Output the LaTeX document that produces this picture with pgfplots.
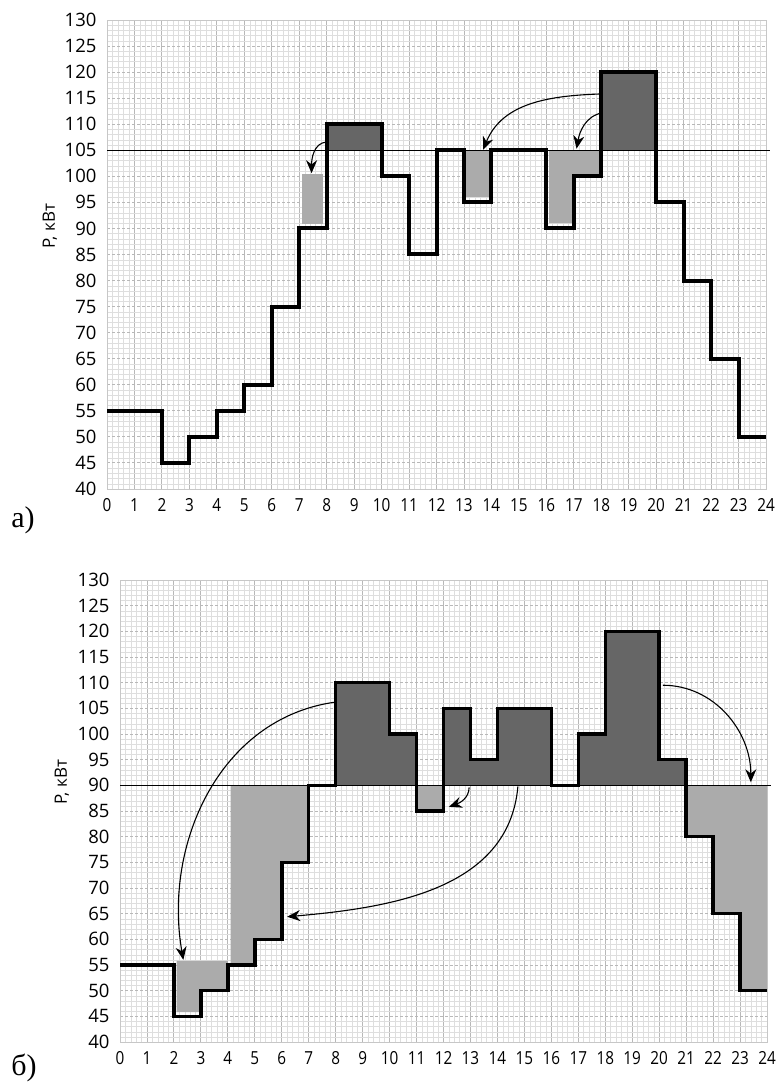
\documentclass[border=0pt]{standalone}
\usepackage{fontspec}
\setmainfont{Open Sans}
\newfontfamily\seriffont{Liberation Serif}
\usepackage{pgfplots}
\pgfplotsset{compat=1.18}
\usetikzlibrary{arrows.meta}
\definecolor{darkfill}{HTML}{666666}
\definecolor{lightfill}{HTML}{ABABAB}
\pgfplotsset{panel/.style={
  scale only axis, anchor=south west,
  xmin=0, xmax=24, ymin=40, ymax=130,
  xtick={0,...,24}, ytick={40,45,...,130},
  minor x tick num=4, minor y tick num=4,
  grid=both,
  major x grid style={draw=black!28, line width=0.9pt},
  major y grid style={draw=black!28, line width=0.9pt, dash pattern=on 3pt off 2pt},
  minor grid style={draw=black!13, line width=0.4pt},
  major tick length=0pt, minor tick length=0pt,
  axis line style={draw=black!22, line width=0.6pt},
  /pgf/number format/assume math mode=true,
  yticklabel style={font=\fontsize{18.5}{20}\selectfont, xshift=-7pt},
  xticklabel style={font=\fontsize{18}{20}\selectfont, yshift=-6pt, xscale=0.85},
  clip=false,
}}
\begin{document}
\begin{tikzpicture}
\useasboundingbox (0pt,0pt) rectangle (779pt,1084pt);
% ---------------- panel a
\begin{axis}[panel, at={(107pt,595pt)}, width=659pt, height=469pt]
% light fills (shifted load)
\addplot[fill=lightfill, draw=none] coordinates {(7.1,90.8) (7.85,90.8) (7.85,100.5) (7.1,100.5)} -- cycle;
\addplot[fill=lightfill, draw=none] coordinates {(13.05,96) (13.9,96) (13.9,105) (13.05,105)} -- cycle;
\addplot[fill=lightfill, draw=none] coordinates {(16.1,91) (17,91) (17,100) (17.95,100) (17.95,105) (16.1,105)} -- cycle;
% dark fills (peak above limit)
\addplot[fill=darkfill, draw=none] coordinates {(8,105) (10,105) (10,110) (8,110)} -- cycle;
\addplot[fill=darkfill, draw=none] coordinates {(18,105) (20,105) (20,120) (18,120)} -- cycle;
% limit line
\addplot[black, line width=1.2pt] coordinates {(0,105) (24.15,105)};
% load curve
\addplot[const plot, black, line width=4pt] coordinates {
(0,55) (2,45) (3,50) (4,55) (5,60) (6,75) (7,90) (8,110) (10,100) (11,85)
(12,105) (13,95) (14,105) (16,90) (17,100) (18,120) (20,95) (21,80) (22,65) (23,50) (24,50)};
% arrows
\draw[-{Stealth[length=13pt,width=11pt]}, line width=1.1pt] (axis cs:8.0,106.6) to[out=185,in=90] (axis cs:7.45,100.6);
\draw[-{Stealth[length=13pt,width=11pt]}, line width=1.1pt] (axis cs:17.95,115.8) to[out=182,in=68] (axis cs:13.7,105.1);
\draw[-{Stealth[length=13pt,width=11pt]}, line width=1.1pt] (axis cs:18.05,112.2) to[out=190,in=80] (axis cs:17.1,105.3);
\end{axis}
\node[rotate=90, font=\fontsize{17}{19}\selectfont] at (50pt,858pt) {P, кВт};
\node[font=\seriffont\fontsize{30}{34}\selectfont] at (23pt,564pt) {а)};
% ---------------- panel b
\begin{axis}[panel, at={(120pt,42pt)}, width=647pt, height=462pt]
% light fills
\addplot[fill=lightfill, draw=none] coordinates {(2.1,45.8) (3,45.8) (3,50) (4,50) (4,55.8) (2.1,55.8)} -- cycle;
\addplot[fill=lightfill, draw=none] coordinates {(4.1,55) (5,55) (5,60) (6,60) (6,75) (7,75) (7,90) (4.1,90)} -- cycle;
\addplot[fill=lightfill, draw=none] coordinates {(11,85) (12,85) (12,90) (11,90)} -- cycle;
\addplot[fill=lightfill, draw=none] coordinates {(21,80) (22,80) (22,65) (23,65) (23,50) (24,50) (24,90) (21,90)} -- cycle;
% dark fills
\addplot[fill=darkfill, draw=none] coordinates {(8,90) (8,110) (10,110) (10,100) (11,100) (11,90)} -- cycle;
\addplot[fill=darkfill, draw=none] coordinates {(12,90) (12,105) (13,105) (13,95) (14,95) (14,105) (16,105) (16,90)} -- cycle;
\addplot[fill=darkfill, draw=none] coordinates {(17,90) (17,100) (18,100) (18,120) (20,120) (20,95) (21,95) (21,90)} -- cycle;
% limit line
\addplot[black, line width=1.2pt] coordinates {(0,90) (24.15,90)};
% load curve
\addplot[const plot, black, line width=3.5pt] coordinates {
(0,55) (2,45) (3,50) (4,55) (5,60) (6,75) (7,90) (8,110) (10,100) (11,85)
(12,105) (13,95) (14,105) (16,90) (17,100) (18,120) (20,95) (21,80) (22,65) (23,50) (24,50)};
% arrows
\draw[-{Stealth[length=13pt,width=11pt]}, line width=1.1pt] (axis cs:7.97,106.2) to[out=188,in=100] (axis cs:2.35,56);
\draw[-{Stealth[length=13pt,width=11pt]}, line width=1.1pt] (axis cs:12.95,89.6) to[out=270,in=20] (axis cs:12.2,85.8);
\draw[-{Stealth[length=13pt,width=11pt]}, line width=1.1pt] (axis cs:14.76,89.8) to[out=265,in=5] (axis cs:6.2,64.4);
\draw[-{Stealth[length=13pt,width=11pt]}, line width=1.1pt] (axis cs:20.14,109.5) to[out=0,in=90] (axis cs:23.4,90.6);
\end{axis}
\node[rotate=90, font=\fontsize{17}{19}\selectfont] at (62pt,302pt) {P, кВт};
\node[font=\seriffont\fontsize{30}{34}\selectfont] at (24pt,16pt) {б)};
\end{tikzpicture}
\end{document}
